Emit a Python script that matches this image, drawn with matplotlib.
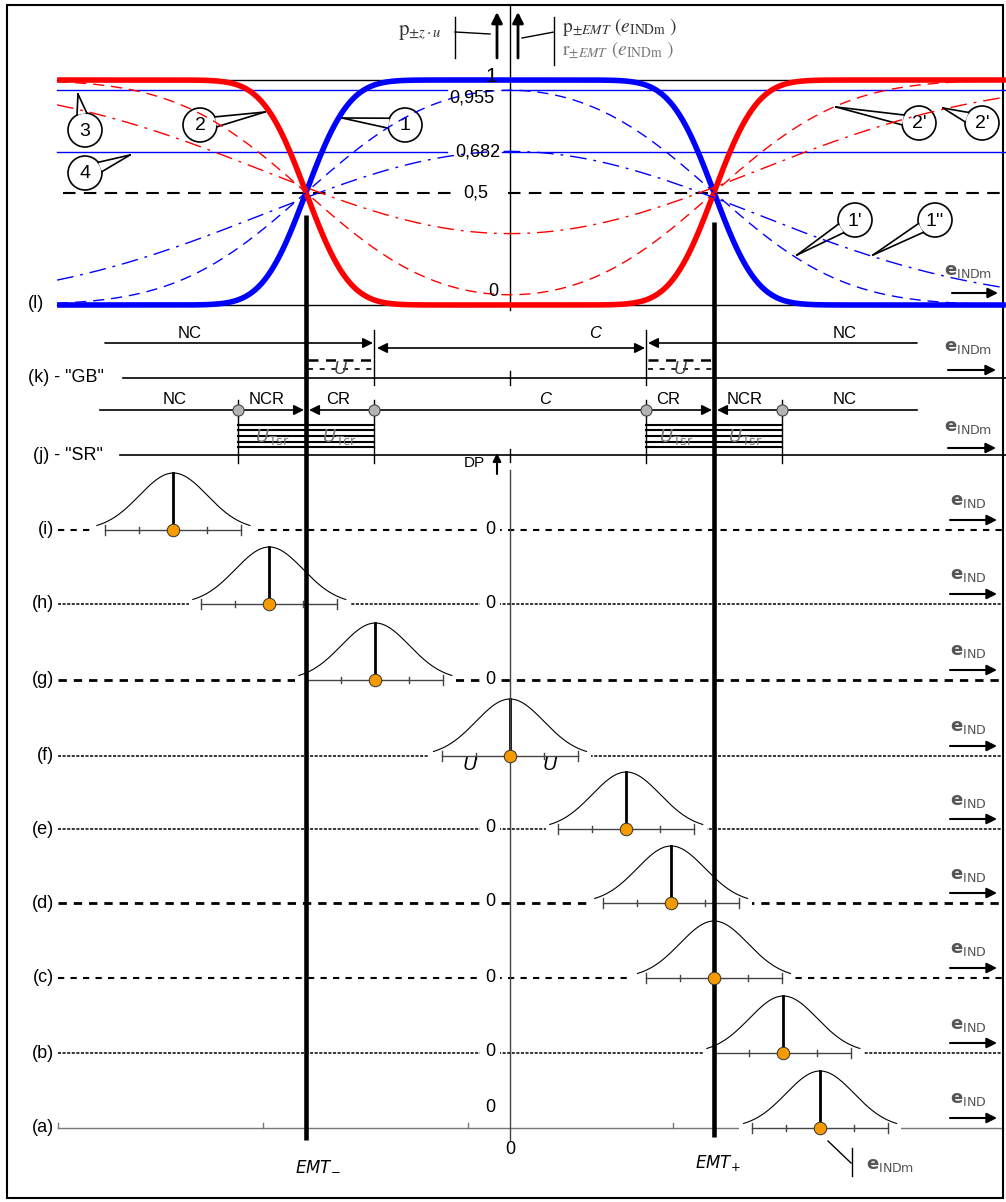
import numpy as np
import matplotlib.pyplot as plt
from matplotlib.patches import Ellipse, Rectangle, Polygon
from math import erf, sqrt

plt.rcParams['font.family'] = ['Liberation Sans', 'DejaVu Sans']
plt.rcParams['mathtext.fontset'] = 'dejavusans'

# ---------------- datos ----------------
EMT = 1.0                       # error máximo tolerado (unidad del eje)
u_curvas = [1/6, 1/2, 1.0]      # incertidumbre típica: curvas 1/2, 1'/2', 1''/2''
niveles_p = [1, 0.955, 0.682, 0.5, 0]
etiquetas_p = ['1', '0,955', '0,682', '0,5', '0']
u_fila = 1/6                    # incertidumbre típica de las filas (a)-(i)
k = 2                           # factor de cobertura, U = k*u
filas = ['(i)', '(h)', '(g)', '(f)', '(e)', '(d)', '(c)', '(b)', '(a)']
medias = [-1.65, -1.18, -0.66, 0.0, 0.57, 0.79, 1.0, 1.34, 1.52]
e_min, e_max = -2.22, 2.43

U = k * u_fila

# ---------------- estilos / posiciones ----------------
y_filas = [530, 604, 680, 756, 829, 903, 978, 1053, 1128]
ls_filas = [(0, (3, 3)), (0, (2, 1)), (0, (3, 2.5)), (0, (2, 1)), (0, (2, 1)),
            (0, (3, 2.5)), (0, (3, 3)), (0, (2, 1)), '-']
lw_filas = [1.5, 1.1, 2.0, 1.1, 1.1, 2.0, 1.5, 1.1, 1.0]
estilos_curva = ['-', (0, (8, 5)), (0, (12, 5, 2, 5))]
grosor_curva = [4.0, 1.0, 1.0]
# desplazamiento vertical de las etiquetas de nivel (en p)
desp_etiqueta = [0.015, -0.035, 0.0, 0.0, 0.06]
x_etiqueta = [491, 472, 478, 476, 493]
ALTO_CAMPANA = 57


def X(p):
    # posición horizontal en píxeles -> unidades del eje
    return (p - 510) / 204


def Phi(z):
    return 0.5 * (1 + np.vectorize(erf)(z / sqrt(2)))


def p_conf(e, u):
    return Phi((EMT - e) / u) - Phi((-EMT - e) / u)


fig = plt.figure(figsize=(10.06, 12.02), dpi=100)
ax = fig.add_axes([0, 0, 1, 1])
ax.set_xlim(X(0), X(1006))
ax.set_ylim(1202, 0)
ax.axis('off')

# panel superior (l)
axp = fig.add_axes([0, 1 - 305 / 1202, 1, 225 / 1202])
axp.set_xlim(X(0), X(1006))
axp.set_ylim(0, 1)
axp.axis('off')
axp.patch.set_alpha(0)

e = np.linspace(e_min, e_max, 600)
for u, ls, lw in zip(u_curvas, estilos_curva, grosor_curva):
    p = p_conf(e, u)
    axp.plot(e, p, color='#0000ff', ls=ls, lw=lw, solid_capstyle='butt', zorder=4, clip_on=False)
    axp.plot(e, 1 - p, color='#ff0000', ls=ls, lw=lw, solid_capstyle='butt', zorder=4, clip_on=False)

# líneas de referencia
for lv, txt, dy, xt in zip(niveles_p, etiquetas_p, desp_etiqueta, x_etiqueta):
    if lv in (0, 1):
        axp.plot([e_min, e_max], [lv, lv], color='k', lw=1, zorder=2, clip_on=False)
    elif lv == 0.5:
        axp.plot([X(63), X(455)], [lv, lv], color='k', ls=(0, (6, 4)), lw=1.5)
        axp.plot([X(508), e_max], [lv, lv], color='k', ls=(0, (6, 4)), lw=1.5)
    else:
        axp.plot([e_min, X(447)], [lv, lv], color='#0000ff', lw=1)
        axp.plot([X(502), e_max], [lv, lv], color='#0000ff', lw=1)
    axp.text(X(xt), lv + dy, txt, ha='center', va='center', fontsize=15 if lv == 1 else 13, zorder=6)

ax.text(X(36), 303, '(l)', ha='center', va='center', fontsize=13)
ax.text(X(968), 272, r'$\mathbf{e}_{\mathrm{INDm}}$', ha='center', va='center',
        fontsize=13, color='#555555')


def flecha(x0, x1, y, lw=1.2, ms=15):
    ax.annotate('', xy=(X(x1), y), xytext=(X(x0), y),
                arrowprops=dict(arrowstyle='-|>', color='k', lw=lw, mutation_scale=ms,
                                shrinkA=0, shrinkB=0), zorder=6)


flecha(952, 998, 293, lw=1.5)


def globo(cx, cy, txt, tx, ty, r=17):
    ax.add_patch(Ellipse((X(cx), cy), 2 * r / 204, 2 * r, fc='white', ec='black', lw=1.2, zorder=6))
    ang = np.arctan2(ty - cy, tx - cx)
    pts = []
    for d in (-0.3, 0.3):
        pts.append((cx + r * np.cos(ang + d), cy + r * np.sin(ang + d)))
    ax.add_patch(Polygon([(X(pts[0][0]), pts[0][1]), (X(tx), ty), (X(pts[1][0]), pts[1][1])],
                         closed=True, fc='white', ec='none', zorder=6.5))
    for bx, by in pts:
        ax.plot([X(bx), X(tx)], [by, ty], color='k', lw=1.2, zorder=7)
    ax.text(X(cx), cy + 1, txt, ha='center', va='center', fontsize=14, zorder=8)


globo(85, 130, '3', 78, 94)
globo(85, 173, '4', 130, 155)
globo(200, 125, '2', 265, 112)
globo(405, 125, '1', 342, 118)
globo(919, 123, "2'", 836, 107)
globo(982, 123, "2'", 943, 108)
globo(855, 220, "1'", 797, 255)
globo(935, 220, "1''", 873, 255)

# cabecera: flechas y textos
for xa in (497, 518):
    ax.annotate('', xy=(X(xa), 12), xytext=(X(xa), 58),
                arrowprops=dict(arrowstyle='-|>', color='k', lw=2, mutation_scale=16,
                                shrinkA=0, shrinkB=0))
ax.plot([X(455), X(455)], [17, 58], color='k', lw=1)
ax.plot([X(455), X(490)], [32, 34], color='k', lw=1)
ax.plot([X(554), X(554)], [17, 65], color='k', lw=1)
ax.plot([X(522), X(554)], [38, 32], color='k', lw=1)
ax.text(X(398), 32, r'$\mathrm{p}_{\pm z\cdot u}$', math_fontfamily='stix', fontsize=15,
        va='center', ha='left', color='#333333')
ax.text(X(562), 27, r'$\mathrm{p}_{\pm EMT}\ (e_{\mathrm{INDm}}\ )$', math_fontfamily='stix',
        fontsize=14, va='center', ha='left', color='#333333')
ax.text(X(562), 50, r'$\mathrm{r}_{\pm EMT}\ (e_{\mathrm{INDm}}\ )$', math_fontfamily='stix',
        fontsize=14, va='center', ha='left', color='#777777')

# eje central y líneas EMT
ax.plot([0, 0], [5, 310], color='k', lw=1, zorder=3)
ax.plot([0, 0], [470, 1140], color='#444444', lw=1, zorder=5)
ax.plot([-EMT, -EMT], [215, 1140], color='k', lw=3.3, zorder=5, solid_capstyle='butt')
ax.plot([EMT, EMT], [222, 1137], color='k', lw=3.3, zorder=5, solid_capstyle='butt')

# ---------------- fila (k) - "GB" ----------------
yk = 378
ax.plot([X(123), X(1006)], [yk, yk], color='k', lw=1.2)
ax.text(X(28), yk, '(k) - "GB"', ha='left', va='center', fontsize=13)
for xs in (-EMT + U, EMT - U):
    ax.plot([xs, xs], [330, 385], color='k', lw=1)
ax.plot([0, 0], [371, 385], color='k', lw=1)
ax.annotate('', xy=(-EMT + U - 0.005, 343), xytext=(X(105), 343),
            arrowprops=dict(arrowstyle='-|>', color='k', lw=1.2, mutation_scale=15, shrinkA=0, shrinkB=0))
ax.annotate('', xy=(EMT - U - 0.005, 348), xytext=(-EMT + U + 0.015, 348),
            arrowprops=dict(arrowstyle='<|-|>', color='k', lw=1.2, mutation_scale=15, shrinkA=0, shrinkB=0))
ax.annotate('', xy=(EMT - U + 0.01, 343), xytext=(X(917), 343),
            arrowprops=dict(arrowstyle='-|>', color='k', lw=1.2, mutation_scale=15, shrinkA=0, shrinkB=0))
ax.text(X(190), 333, 'NC', ha='center', va='center', fontsize=12)
ax.text(X(595), 334, 'C', ha='center', va='center', fontsize=12, style='italic')
ax.text(X(845), 333, 'NC', ha='center', va='center', fontsize=12)
for a, b in ((-EMT, -EMT + U), (EMT - U, EMT)):
    ax.plot([a + 0.01, b], [360, 360], color='k', lw=1.8, ls=(0, (4, 3)))
    ax.plot([a + 0.01, b], [369, 369], color='k', lw=1.2, ls=(0, (3, 4)))
    ax.text((a + b) / 2, 370, 'U', ha='center', va='center', fontsize=13,
            style='italic', color='#444444')

# ---------------- fila (j) - "SR" ----------------
yj = 455
yl = 410
ax.plot([X(120), X(1006)], [yj, yj], color='k', lw=1.2)
ax.text(X(33), yj, '(j) - "SR"', ha='left', va='center', fontsize=13)
lim = [-EMT - U, -EMT + U, EMT - U, EMT + U]
for xs in lim:
    ax.plot([xs, xs], [400, 463], color='k', lw=1)
ax.plot([0, 0], [449, 462], color='k', lw=1)
ax.plot([X(100), lim[0]], [yl, yl], color='k', lw=1.2)
ax.plot([lim[1], lim[2]], [yl, yl], color='k', lw=1.2)
ax.plot([lim[3], X(917)], [yl, yl], color='k', lw=1.2)
for x0, x1 in ((lim[0], -EMT - 0.01), (lim[1], -EMT + 0.015), (lim[2], EMT - 0.01), (lim[3], EMT + 0.015)):
    ax.annotate('', xy=(x1, yl), xytext=(x0, yl),
                arrowprops=dict(arrowstyle='-|>', color='k', lw=1.2, mutation_scale=15, shrinkA=0, shrinkB=0))
ax.plot(lim, [yl] * 4, 'o', ms=8, mfc='#b4b4b4', mec='#444444', mew=0.8, zorder=7)
for y in (425, 430, 436, 442, 447):
    ax.plot([lim[0], lim[1]], [y, y], color='k', lw=1.5)
    ax.plot([lim[2], lim[3]], [y, y], color='k', lw=1.5)
for xt, txt in ((272, r'$U_{\rm Tsr}$'), (340, r'$U_{\rm Tcr}$'), (676, r'$U_{\rm Tsr}$'), (745, r'$U_{\rm Tsr}$')):
    ax.text(X(xt), 437, txt, ha='center', va='center', fontsize=13, color='#777777')
for xt, txt in ((175, 'NC'), (267, 'NCR'), (338, 'CR'), (545, 'C'), (668, 'CR'), (745, 'NCR'), (845, 'NC')):
    ax.text(X(xt), 399, txt, ha='center', va='center', fontsize=12,
            style='italic' if txt == 'C' else 'normal')
for yy in (347, 427):
    ax.text(X(968), yy, r'$\mathbf{e}_{\mathrm{INDm}}$', ha='center', va='center',
            fontsize=13, color='#555555')
flecha(948, 996, 370, lw=1.5)
flecha(948, 996, 448, lw=1.5)

# ---------------- filas (a)-(i) ----------------
ax.text(X(474), 463, 'DP', ha='center', va='center', fontsize=11)
ax.annotate('', xy=(X(497), 453), xytext=(X(497), 474),
            arrowprops=dict(arrowstyle='-|>', color='k', lw=1.5, mutation_scale=12, shrinkA=0, shrinkB=0))

for nombre, mu, yb, ls, lw in zip(filas, medias, y_filas, ls_filas, lw_filas):
    col = '#777777' if nombre == '(a)' else 'k'
    ax.plot([X(58), X(1003)], [yb, yb], color=col, ls=ls, lw=lw, zorder=1)
    ax.text(X(54), yb, nombre, ha='right', va='center', fontsize=13)
    # hueco blanco para la campana
    ax.add_patch(Rectangle((mu - 2.25 * u_fila - 0.02, yb - 4), 4.5 * u_fila + 0.04, 8,
                           fc='white', ec='none', zorder=2))
    xs = np.linspace(mu - 2.25 * u_fila, mu + 2.25 * u_fila, 200)
    ax.plot(xs, yb - ALTO_CAMPANA * np.exp(-0.5 * ((xs - mu) / u_fila) ** 2), color='k', lw=0.8, zorder=3)
    ax.plot([mu - U, mu + U], [yb, yb], color='#444444', lw=1, zorder=3)
    for t, h in ((-2, 5), (-1, 3), (1, 3), (2, 5)):
        ax.plot([mu + t * u_fila] * 2, [yb - h, yb + h], color='#444444', lw=1, zorder=3)
    ax.plot([mu, mu], [yb, yb - ALTO_CAMPANA], color='k', lw=2, zorder=4)
    ax.plot(mu, yb, 'o', ms=9, mfc='#f59b00', mec='#333333', mew=0.7, zorder=8)
    if nombre == '(a)':
        ax.text(X(490), 1107, '0', ha='center', va='center', fontsize=13)
        for xt in (58, 263, 468, 673):
            ax.plot([X(xt)] * 2, [yb - 5, yb], color='#777777', lw=1)
    elif nombre != '(f)':
        ax.text(X(490), yb - 1, '0', ha='center', va='center', fontsize=13, zorder=4,
                bbox=dict(boxstyle='square,pad=0.3', fc='white', ec='none'))
    ax.text(X(968), yb - 28, r'$\mathbf{e}_{\mathrm{IND}}$', ha='center', va='center',
            fontsize=13, color='#555555')
    flecha(950, 997, yb - 10, lw=1.5)

ax.text(medias[3] - U / 1.7, 766, 'U', ha='center', va='center', fontsize=14, style='italic')
ax.text(medias[3] + U / 1.7, 766, 'U', ha='center', va='center', fontsize=14, style='italic')

# ---------------- eje inferior ----------------
ax.text(-EMT + 0.06, 1165, r'$EMT_{-}$', ha='center', va='center', fontsize=12)
ax.text(0, 1150, '0', ha='center', va='center', fontsize=13)
ax.text(EMT + 0.02, 1163, r'$EMT_{+}$', ha='center', va='center', fontsize=12)
ax.plot([X(828), X(851)], [1141, 1163], color='k', lw=1)
ax.plot([X(852), X(852)], [1148, 1176], color='k', lw=1)
ax.text(X(890), 1165, r'$\mathbf{e}_{\mathrm{INDm}}$', ha='center', va='center',
        fontsize=13, color='#555555')

# marco
ax.add_patch(Rectangle((X(7), 5), X(1003) - X(7), 1193, fill=False, ec='k', lw=1.5, zorder=9))

fig.savefig('out.png', dpi=100)
